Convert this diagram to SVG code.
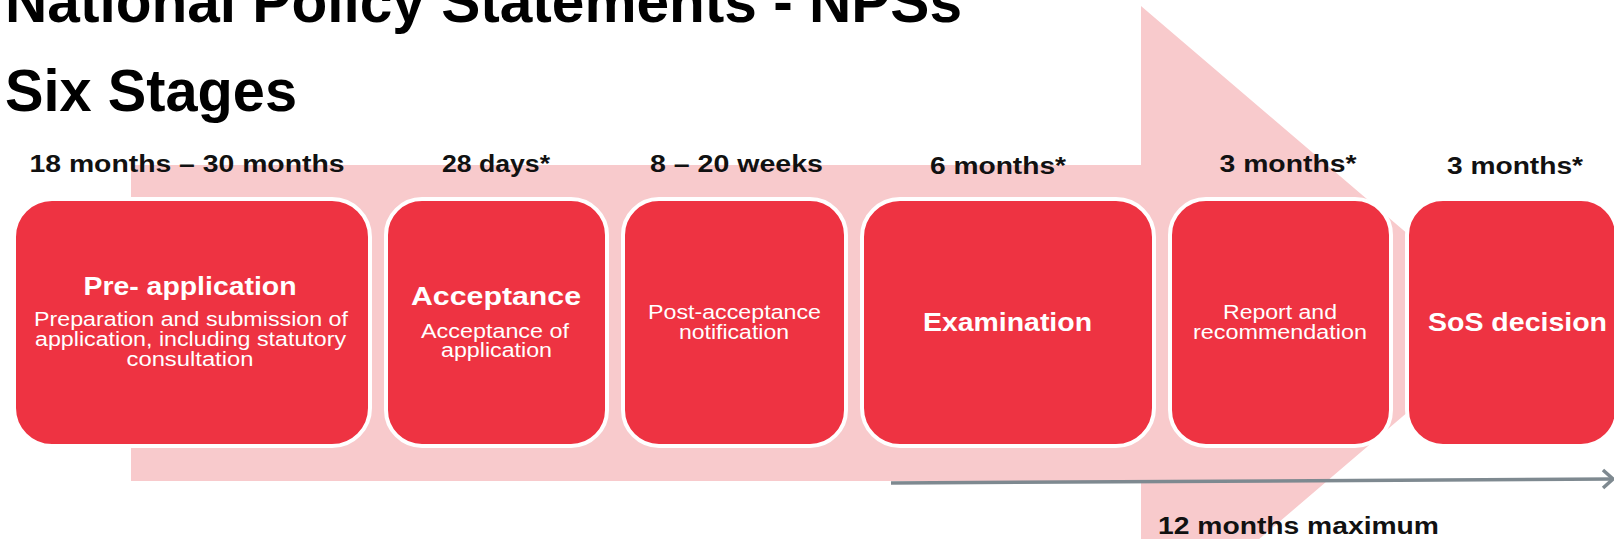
<svg xmlns="http://www.w3.org/2000/svg" width="1614" height="539" viewBox="0 0 1614 539">
  <defs>
    <style>
      .title { font-family: "Liberation Sans", Arial, sans-serif; font-weight: bold; font-size: 60px; fill: #000; }
      .dur { font-family: "Liberation Sans", Arial, sans-serif; font-weight: bold; font-size: 23px; fill: #111; text-anchor: middle; }
      .box { fill: #EE3342; stroke: #FFFFFF; stroke-width: 4; }
      .head { font-family: "Liberation Sans", Arial, sans-serif; font-weight: bold; font-size: 25px; fill: #FFFFFF; text-anchor: middle; }
      .sub { font-family: "Liberation Sans", Arial, sans-serif; font-size: 20px; fill: #FFFFFF; text-anchor: middle; }
      .conn { stroke: #7E8990; stroke-width: 3.5; fill: none; }
    </style>
    <marker id="chev" markerUnits="userSpaceOnUse" markerWidth="16" markerHeight="22" refX="12" refY="11" orient="auto">
      <path d="M2,2 L12,11 L2,20" fill="none" stroke="#7E8990" stroke-width="3.5"/>
    </marker>
  </defs>

  <rect x="0" y="0" width="1614" height="539" fill="#FFFFFF"/>

  <!-- background process arrow -->
  <g id="process-arrow">
    <polygon points="131,165 1141,165 1141,6 1512,323 1141,640 1141,481 131,481" fill="#F8CACC"/>
  </g>

  <!-- titles -->
  <g id="titles">
    <text class="title" x="5" y="22" textLength="957" lengthAdjust="spacingAndGlyphs">National Policy Statements - NPSs</text>
    <text class="title" x="5" y="111" textLength="292" lengthAdjust="spacingAndGlyphs">Six Stages</text>
  </g>

  <!-- duration labels -->
  <g id="durations">
    <text class="dur" x="187" y="172" textLength="315" lengthAdjust="spacingAndGlyphs">18 months – 30 months</text>
    <text class="dur" x="496" y="172" textLength="108" lengthAdjust="spacingAndGlyphs">28 days*</text>
    <text class="dur" x="736.5" y="172" textLength="173" lengthAdjust="spacingAndGlyphs">8 – 20 weeks</text>
    <text class="dur" x="998" y="174" textLength="136" lengthAdjust="spacingAndGlyphs">6 months*</text>
    <text class="dur" x="1288" y="172" textLength="137" lengthAdjust="spacingAndGlyphs">3 months*</text>
    <text class="dur" x="1515" y="174" textLength="136" lengthAdjust="spacingAndGlyphs">3 months*</text>
  </g>

  <g id="node-pre-application">
    <rect class="box" x="14" y="199" width="356" height="247" rx="38" ry="38"/>
    <text class="head" x="190" y="295" textLength="213" lengthAdjust="spacingAndGlyphs">Pre- application</text>
    <text class="sub" x="191" y="326" textLength="314" lengthAdjust="spacingAndGlyphs">Preparation and submission of</text>
    <text class="sub" x="190.5" y="346" textLength="311" lengthAdjust="spacingAndGlyphs">application, including statutory</text>
    <text class="sub" x="190" y="366" textLength="127" lengthAdjust="spacingAndGlyphs">consultation</text>
  </g>

  <g id="node-acceptance">
    <rect class="box" x="386" y="199" width="221" height="247" rx="36" ry="36"/>
    <text class="head" x="496" y="305" textLength="170" lengthAdjust="spacingAndGlyphs">Acceptance</text>
    <text class="sub" x="495" y="338" textLength="148" lengthAdjust="spacingAndGlyphs">Acceptance of</text>
    <text class="sub" x="496.5" y="357" textLength="111" lengthAdjust="spacingAndGlyphs">application</text>
  </g>

  <g id="node-post-acceptance">
    <rect class="box" x="623" y="199" width="223" height="247" rx="36" ry="36"/>
    <text class="sub" x="734.5" y="319" textLength="173" lengthAdjust="spacingAndGlyphs">Post-acceptance</text>
    <text class="sub" x="734" y="339" textLength="110" lengthAdjust="spacingAndGlyphs">notification</text>
  </g>

  <g id="node-examination">
    <rect class="box" x="862" y="199" width="292" height="247" rx="38" ry="38"/>
    <text class="head" x="1007.5" y="331" textLength="169" lengthAdjust="spacingAndGlyphs">Examination</text>
  </g>

  <g id="node-report">
    <rect class="box" x="1170" y="199" width="221" height="247" rx="36" ry="36"/>
    <text class="sub" x="1280" y="319" textLength="114" lengthAdjust="spacingAndGlyphs">Report and</text>
    <text class="sub" x="1280" y="339" textLength="174" lengthAdjust="spacingAndGlyphs">recommendation</text>
  </g>

  <g id="node-sos-decision">
    <rect class="box" x="1407" y="199" width="210" height="247" rx="36" ry="36"/>
    <text class="head" x="1517.5" y="331" textLength="179" lengthAdjust="spacingAndGlyphs">SoS decision</text>
  </g>

  <!-- connectors -->
  <g id="connectors">
    <line class="conn" x1="891" y1="483" x2="1613" y2="479" marker-end="url(#chev)"/>
  </g>

  <text class="dur" x="1298.5" y="534" textLength="281" lengthAdjust="spacingAndGlyphs">12 months maximum</text>
</svg>
